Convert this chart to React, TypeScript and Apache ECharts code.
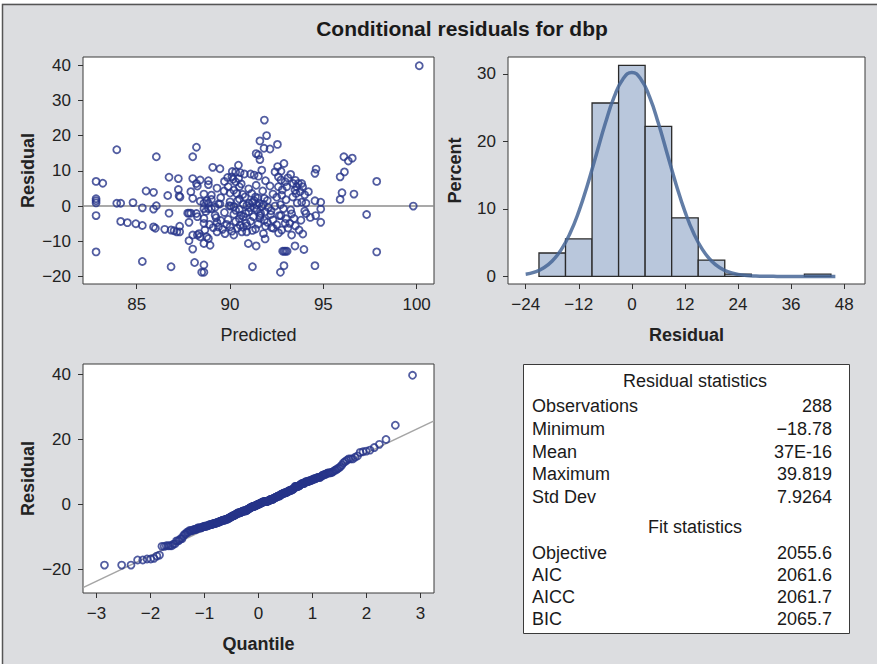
import React, { useEffect, useRef } from "react";
import * as echarts from "echarts";

const FONT = "'Liberation Sans', Arial, Helvetica, sans-serif";

const chartTitle = "Conditional residuals for dbp";

// Predicted values (x) and conditional residuals (y)
const predicted = [
  82.82, 82.82, 82.82, 82.82, 82.82, 82.82, 83.18, 83.93, 83.93, 84.14,
  84.14, 84.5, 84.8, 84.95, 85.3, 85.3, 85.3, 85.5, 85.9, 85.9,
  85.9, 86.0, 86.05, 86.05, 86.5, 86.66, 86.73, 86.73, 86.84, 86.84,
  87.0, 87.23, 87.23, 87.27, 87.32, 87.3, 87.3, 87.15, 87.73, 87.8,
  87.9, 87.8, 87.8, 87.9, 88.0, 88.0, 88.0, 88.0, 88.0, 88.1,
  88.2, 88.2, 88.25, 88.2, 88.25, 88.25, 88.34, 88.4, 88.4, 88.4,
  88.48, 88.6, 88.6, 88.6, 88.6, 88.6, 88.6, 88.6, 88.6, 88.65,
  88.75, 88.75, 88.84, 88.84, 88.84, 88.84, 88.84, 88.93, 89.0, 89.0,
  89.07, 89.2, 89.25, 89.3, 89.3, 89.38, 89.46, 89.46, 89.38, 89.68,
  89.73, 89.82, 89.87, 89.9, 89.96, 90.05, 90.1, 90.12, 90.16, 90.2,
  90.2, 90.2, 90.2, 90.3, 90.3, 90.36, 90.4, 90.4, 90.45, 90.46,
  90.5, 90.5, 90.54, 90.54, 90.63, 90.68, 90.71, 90.71, 90.77, 90.8,
  90.84, 90.86, 90.89, 90.98, 91.4, 91.02, 91.07, 91.1, 91.16, 91.2,
  91.25, 91.29, 91.3, 91.36, 91.37, 91.4, 91.43, 91.45, 91.52, 91.52,
  91.57, 91.6, 91.6, 91.64, 91.7, 91.7, 91.75, 91.79, 91.82, 91.84,
  91.84, 91.84, 91.88, 91.88, 91.96, 92.05, 92.14, 92.14, 92.18, 92.23,
  92.32, 92.41, 92.41, 92.54, 92.55, 92.59, 92.59, 92.64, 92.7, 92.73,
  92.73, 92.73, 92.77, 92.77, 92.82, 92.9, 92.98, 93.06, 92.86, 92.89,
  92.89, 92.95, 92.95, 93.04, 93.2, 93.25, 93.25, 93.3, 93.36, 93.39,
  93.43, 93.48, 93.48, 93.54, 93.57, 93.66, 93.7, 93.75, 93.8, 93.84,
  93.84, 93.89, 93.96, 94.07, 94.07, 94.2, 94.55, 94.61, 94.55, 94.59,
  94.55, 94.86, 94.86, 94.86, 95.9, 95.9, 96.0, 96.1, 96.13, 96.34,
  96.55, 96.64, 97.32, 97.86, 97.86, 99.82, 100.14,
  88.9, 89.1, 89.5, 89.6, 89.9, 90.0, 90.1, 90.3, 90.5, 90.7,
  90.9, 91.1, 91.2, 91.5, 91.6, 91.9, 92.0, 92.3, 92.5, 92.6,
  93.0, 93.1, 93.5, 93.9, 94.3,
  88.7, 89.0, 89.2, 89.5, 89.7, 90.0, 90.3, 90.5, 90.6, 90.9,
  91.0, 91.2, 91.3, 91.5, 91.6, 91.8, 92.0, 92.2, 92.5, 92.7,
  93.0, 93.3, 93.6, 94.0,
  89.3, 89.7, 90.0, 90.6, 91.0, 91.4, 91.9, 92.3, 92.8, 93.1,
  93.5, 94.0,
];

const residual = [
  7.0, 2.1, 1.5, 0.9, -2.7, -13.0, 6.5, 16.0, 0.8, 0.8,
  -4.35, -4.7, 1.0, -5.0, -0.5, -5.5, -15.7, 4.3, 3.9, -0.85,
  -5.9, -6.3, 14.0, 0.1, -6.6, 3.0, 8.2, -2.0, -17.2, -6.8,
  -7.0, 7.8, 4.7, 2.9, 2.6, -5.7, -7.3, -7.3, -2.0, -2.0,
  -2.0, -4.6, -9.8, 4.1, 14.0, 7.8, 2.2, -8.2, -12.2, -16.0,
  16.7, 6.4, 5.7, -2.1, -3.0, -8.2, -7.8, 7.4, 1.4, -8.7,
  -18.78, -18.78, -4.9, -3.5, -16.7, -10.6, 3.4, 0.8, -0.7, -6.8,
  1.5, -8.7, 7.2, 6.1, 0.8, -0.7, -9.2, -11.1, 3.1, -0.7,
  11.0, -2.6, -3.3, -4.7, -7.3, 0.6, 10.6, 0.6, -5.9, 4.3,
  -7.8, -5.2, 8.1, 5.5, 0.1, 0.0, 8.3, 9.8, 7.6, 4.5,
  -8.2, -0.2, -2.3, 9.7, 6.9, 3.6, 1.5, -6.3, 11.6, 7.8,
  5.5, -0.9, -5.4, 9.5, -7.3, 3.3, 0.5, -3.0, 9.1, 2.6,
  -2.1, -4.9, -7.3, -10.6, -11.3, 0.8, -0.4, 9.1, 3.6, -17.2,
  -3.0, 8.8, 1.5, 2.6, -6.5, 14.9, 0.3, -1.1, 14.5, 8.5,
  0.8, 13.2, 18.5, -2.1, 10.2, -0.2, 4.3, -7.8, 16.4, 24.4,
  2.2, -4.0, -9.3, -1.6, 20.0, -0.4, 16.2, 5.7, -2.4, -6.1,
  -6.3, 0.0, 9.7, 17.5, 11.2, 8.3, 5.5, -2.7, -18.78, 9.9,
  7.4, -2.7, 3.1, -6.8, -12.8, -12.8, -12.8, -12.8, -0.7, 12.1,
  -16.9, -4.9, 6.9, 5.5, -4.9, 9.0, -1.1, -8.2, 2.6, 6.4,
  -3.5, -11.3, 4.5, 3.6, 5.5, 6.4, -6.8, 4.1, -4.0, 6.4,
  1.1, 5.5, -12.3, 0.8, -2.1, 4.1, 9.3, 10.5, 1.5, -2.7,
  -16.9, 1.1, -0.85, -4.6, 8.3, 1.9, 3.8, 14.0, 9.7, 12.8,
  13.6, 3.4, -2.4, 7.0, -13.0, 0.0, 39.82,
  -5.2, -6.1, -4.1, -6.6, -3.8, -5.9, -7.1, -4.4, -3.6, -6.0,
  -5.6, -4.3, -6.9, -5.1, -3.4, -5.7, -4.6, -3.9, -5.3, -7.6,
  -3.6, -6.2, -5.6, -7.9, -3.2,
  -1.5, 1.9, -0.3, 2.4, -1.8, 1.2, -1.2, 2.0, -2.6, 0.2,
  -1.6, 1.1, -0.6, 2.3, -2.7, 0.5, 1.6, -1.3, 2.5, 0.4,
  1.8, -2.2, 0.9, -1.4,
  5.1, 7.0, 3.7, 6.3, 4.9, 5.9, 7.2, 3.4, 4.6, 8.0,
  7.3, 3.2,
];

// Histogram of residuals: bin start, width and percent of observations
const binStart = [-21, -15, -9, -3, 3, 9, 15, 21, 39];
const binWidth = 6;
const binPercent = [3.47, 5.56, 25.69, 31.25, 22.22, 8.68, 2.43, 0.35, 0.35];

// Fitted normal density curve (percent scale)
const densityX = [
  -24, -22, -20, -18, -16, -14, -12, -10, -8, -6, -4, -2, 0, 2, 4, 6, 8, 10,
  12, 14, 16, 18, 20, 22, 24, 26, 28, 30, 32, 34, 36, 38, 40, 42, 44, 46,
];
const densityY = [
  0.31, 0.64, 1.25, 2.29, 3.94, 6.35, 9.6, 13.63, 18.15, 22.68, 26.59, 29.25,
  30.2, 29.25, 26.59, 22.68, 18.15, 13.63, 9.6, 6.35, 3.94, 2.29, 1.25, 0.64,
  0.31, 0.14, 0.06, 0.02, 0.01, 0, 0, 0, 0, 0, 0, 0,
];

// Tick labels
const scatterXTicks = [85, 90, 95, 100];
const scatterYTicks = [-20, -10, 0, 10, 20, 30, 40];
const histXTicks = [-24, -12, 0, 12, 24, 36, 48];
const histYTicks = [0, 10, 20, 30];
const qqXTicks = [-3, -2, -1, 0, 1, 2, 3];
const qqYTicks = [-20, 0, 20, 40];

// Statistics table
const residualStatsTitle = "Residual statistics";
const residualStatLabels = ["Observations", "Minimum", "Mean", "Maximum", "Std Dev"];
const residualStatValues = ["288", "\u221218.78", "37E-16", "39.819", "7.9264"];
const fitStatsTitle = "Fit statistics";
const fitStatLabels = ["Objective", "AIC", "AICC", "BIC"];
const fitStatValues = ["2055.6", "2061.6", "2061.7", "2065.7"];
const residualMean = 0;
const residualStd = 7.9264;

function invNorm(p: number): number {
  const a = [-3.969683028665376e1, 2.209460984245205e2, -2.759285104469687e2, 1.38357751867269e2, -3.066479806614716e1, 2.506628277459239];
  const b = [-5.447609879822406e1, 1.615858368580409e2, -1.556989798598866e2, 6.680131188771972e1, -1.328068155288572e1];
  const c = [-7.784894002430293e-3, -3.223964580411365e-1, -2.400758277161838, -2.549732539343734, 4.374664141464968, 2.938163982698783];
  const d = [7.784695709041462e-3, 3.224671290700398e-1, 2.445134137142996, 3.754408661907416];
  const pl = 0.02425;
  if (p < pl) {
    const q = Math.sqrt(-2 * Math.log(p));
    return (((((c[0] * q + c[1]) * q + c[2]) * q + c[3]) * q + c[4]) * q + c[5]) / ((((d[0] * q + d[1]) * q + d[2]) * q + d[3]) * q + 1);
  }
  if (p > 1 - pl) {
    const q = Math.sqrt(-2 * Math.log(1 - p));
    return -(((((c[0] * q + c[1]) * q + c[2]) * q + c[3]) * q + c[4]) * q + c[5]) / ((((d[0] * q + d[1]) * q + d[2]) * q + d[3]) * q + 1);
  }
  const q = p - 0.5;
  const r = q * q;
  return ((((((a[0] * r + a[1]) * r + a[2]) * r + a[3]) * r + a[4]) * r + a[5]) * q) / (((((b[0] * r + b[1]) * r + b[2]) * r + b[3]) * r + b[4]) * r + 1);
}

const minus = (v: number | string) => String(v).replace("-", "\u2212");

function axis(opts: any) {
  const { ticks, name, nameGap, bold, ...rest } = opts;
  return {
    type: "value",
    splitLine: { show: false },
    axisLine: { show: false, onZero: false },
    axisTick: { show: true, length: 5, inside: false, customValues: ticks, lineStyle: { color: "#333", width: 1 } },
    axisLabel: { customValues: ticks, color: "#222", fontSize: 17, fontFamily: FONT, margin: 12, formatter: (v: number) => minus(v) },
    name,
    nameLocation: "middle",
    nameGap,
    nameTextStyle: { fontSize: 18, fontWeight: bold ? "bold" : "normal", color: "#222", fontFamily: FONT },
    ...rest,
  };
}

export default function App() {
  const ref = useRef<HTMLDivElement>(null);

  useEffect(() => {
    document.body.style.margin = "0";
    if (!ref.current) return;
    const chart = echarts.init(ref.current, undefined, { renderer: "svg" });

    const scatterData = predicted.map((p, i) => [p, residual[i]]);
    const sorted = residual.slice().sort((a, b) => a - b);
    const n = sorted.length;
    const qqData = sorted.map((r, i) => [invNorm((i + 1 - 0.375) / (n + 0.25)), r]);
    const qqXMin = -3.25;
    const qqXMax = 3.25;
    const refLine = [
      [qqXMin, residualMean + residualStd * qqXMin],
      [qqXMax, residualMean + residualStd * qqXMax],
    ];

    const markerStyle = { color: "rgba(255,255,255,0)", borderColor: "#27358a", borderWidth: 1.8 };

    const tableX = 523.5;
    const tableY = 364.5;
    const tableW = 326;
    const tableH = 269;
    const labelX = 532;
    const valueX = 832;
    const headerCX = 695;
    const textStyle = (extra: any) => ({ fontSize: 18, fontFamily: FONT, fill: "#1a1a1a", verticalAlign: "middle", ...extra });

    const tableElems: any[] = [
      { type: "rect", shape: { x: tableX, y: tableY, width: tableW, height: tableH }, style: { fill: "#fff", stroke: "#3a3a3a", lineWidth: 1 } },
      { type: "text", x: headerCX, y: 380.7, style: textStyle({ text: residualStatsTitle, align: "center" }) },
      { type: "text", x: headerCX, y: 526.7, style: textStyle({ text: fitStatsTitle, align: "center" }) },
    ];
    residualStatLabels.forEach((l, i) => {
      const y = 406.3 + i * 22.6;
      tableElems.push({ type: "text", x: labelX, y, style: textStyle({ text: l, align: "left" }) });
      tableElems.push({ type: "text", x: valueX, y, style: textStyle({ text: residualStatValues[i], align: "right" }) });
    });
    fitStatLabels.forEach((l, i) => {
      const y = 552.7 + i * 22;
      tableElems.push({ type: "text", x: labelX, y, style: textStyle({ text: l, align: "left" }) });
      tableElems.push({ type: "text", x: valueX, y, style: textStyle({ text: fitStatValues[i], align: "right" }) });
    });

    const option: any = {
      animation: false,
      backgroundColor: "#dcdde0",
      graphic: [
        { type: "rect", shape: { x: 0, y: 0, width: 877, height: 3.5 }, style: { fill: "#fff" }, z: 100 },
        { type: "rect", shape: { x: 0, y: 0, width: 2, height: 664 }, style: { fill: "#fff" }, z: 100 },
        { type: "polyline", shape: { points: [[2.5, 664], [2.5, 4.5], [877, 4.5]] }, style: { stroke: "#555", lineWidth: 1.5, fill: null }, z: 100 },
        {
          type: "text",
          x: 462,
          y: 28,
          style: { text: chartTitle, fontSize: 21, fontWeight: "bold", fontFamily: FONT, fill: "#1a1a1a", align: "center", verticalAlign: "middle" },
        },
        ...tableElems,
      ],
      grid: [
        { left: 83, top: 57, width: 351, height: 227, show: true, backgroundColor: "#fff", borderColor: "#3a3a3a", borderWidth: 1 },
        { left: 508, top: 57, width: 357, height: 227, show: true, backgroundColor: "#fff", borderColor: "#3a3a3a", borderWidth: 1 },
        { left: 83, top: 364, width: 351, height: 229, show: true, backgroundColor: "#fff", borderColor: "#3a3a3a", borderWidth: 1 },
      ],
      xAxis: [
        axis({ gridIndex: 0, min: 82.12, max: 100.93, ticks: scatterXTicks, name: "Predicted", nameGap: 42, bold: false }),
        axis({ gridIndex: 1, min: -28, max: 52.7, ticks: histXTicks, name: "Residual", nameGap: 42, bold: true }),
        axis({ gridIndex: 2, min: qqXMin, max: qqXMax, ticks: qqXTicks, name: "Quantile", nameGap: 42, bold: true }),
      ],
      yAxis: [
        axis({ gridIndex: 0, min: -22.1, max: 42.3, ticks: scatterYTicks, name: "Residual", nameGap: 46, bold: true }),
        axis({ gridIndex: 1, min: -1.12, max: 32.5, ticks: histYTicks, name: "Percent", nameGap: 44, bold: true }),
        axis({ gridIndex: 2, min: -27.4, max: 43.3, ticks: qqYTicks, name: "Residual", nameGap: 46, bold: true }),
      ],
      series: [
        {
          type: "scatter",
          xAxisIndex: 0,
          yAxisIndex: 0,
          data: scatterData,
          symbol: "circle",
          symbolSize: 7,
          itemStyle: markerStyle,
          z: 3,
          markLine: {
            silent: true,
            symbol: "none",
            label: { show: false },
            lineStyle: { color: "#8c8c8c", type: "solid", width: 1.5 },
            data: [{ yAxis: 0 }],
            z: 2,
          },
        },
        {
          type: "custom",
          xAxisIndex: 1,
          yAxisIndex: 1,
          data: binStart.map((s, i) => [s, s + binWidth, binPercent[i]]),
          encode: { x: [0, 1], y: 2 },
          renderItem: (params: any, api: any) => {
            const p0 = api.coord([api.value(0), 0]);
            const p1 = api.coord([api.value(1), api.value(2)]);
            return {
              type: "rect",
              shape: { x: p0[0], y: p1[1], width: p1[0] - p0[0], height: p0[1] - p1[1] },
              style: { fill: "#b9c7dc", stroke: "#2a2a2a", lineWidth: 1.3 },
            };
          },
          z: 2,
        },
        {
          type: "line",
          xAxisIndex: 1,
          yAxisIndex: 1,
          data: densityX.map((x, i) => [x, densityY[i]]),
          smooth: true,
          showSymbol: false,
          lineStyle: { color: "rgba(70,102,150,0.85)", width: 3.5 },
          z: 3,
        },
        {
          type: "line",
          xAxisIndex: 2,
          yAxisIndex: 2,
          data: refLine,
          showSymbol: false,
          lineStyle: { color: "#a5a5a5", width: 1.5 },
          z: 2,
        },
        {
          type: "scatter",
          xAxisIndex: 2,
          yAxisIndex: 2,
          data: qqData,
          symbol: "circle",
          symbolSize: 7,
          itemStyle: markerStyle,
          z: 3,
        },
      ],
    };

    chart.setOption(option);
    return () => chart.dispose();
  }, []);

  return <div ref={ref} style={{ width: 877, height: 664 }} />;
}
